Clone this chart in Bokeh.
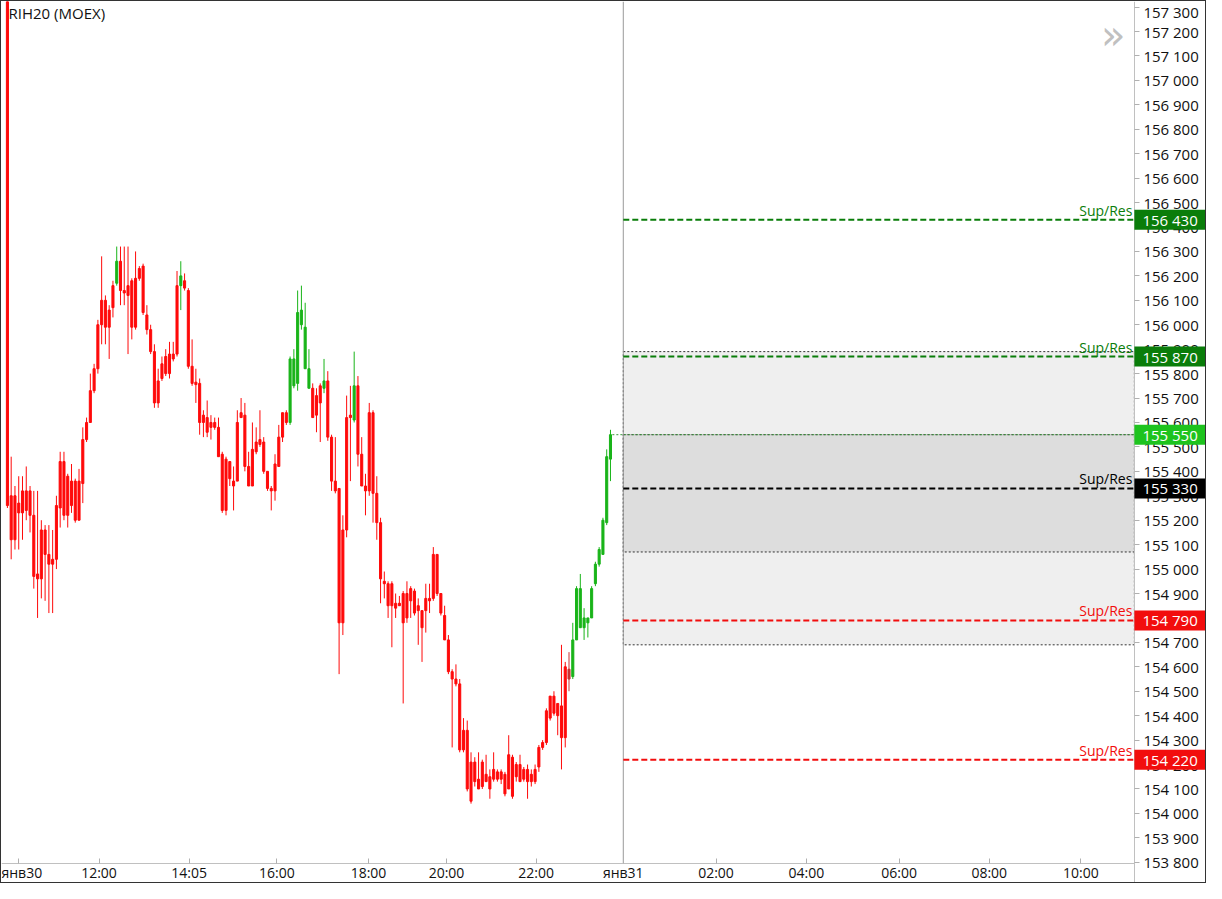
from bokeh.plotting import figure
from bokeh.models import (Range1d, FixedTicker, SingleIntervalTicker,
                          CustomJSTickFormatter, Label, ColumnDataSource)
from bokeh.embed import file_html
from bokeh.resources import INLINE

# ---------------- data ----------------
instrument = "RIH20 (MOEX)"

opens = [157460, 155300, 155120, 155270, 155230, 155320, 155320, 155220, 154980, 154960,
         155160, 155060, 155020, 155040, 155250, 155440, 155220, 155360, 155360, 155200,
         155350, 155530, 155600, 155730, 155820, 156000, 156100, 155990, 156070, 156170,
         156260, 156140, 156120, 156180, 155990, 156190, 156240, 156040, 155980, 155890,
         155680, 155780, 155800, 155880, 155860, 155880, 156160, 156180, 156140, 155830,
         155765, 155760, 155600, 155620, 155580, 155600, 155580, 155470, 155240, 155440,
         155360, 155360, 155620, 155630, 155420, 155340, 155480, 155510, 155520, 155400,
         155330, 155320, 155420, 155540, 155600, 155600, 155860, 155760, 156060, 155990,
         155820, 155740, 155630, 155680, 155740, 155770, 155540, 155360, 155330, 154780,
         155160, 155620, 155610, 155750, 155470, 155340, 155320, 155640, 155310, 155190,
         154950, 154940, 154850, 154860, 154850, 154900, 154800, 154920, 154910, 154850,
         154830, 154830, 154880, 154880, 155060, 154900, 154810, 154710, 154580, 154550,
         154530, 154260, 154340, 154050, 154210, 154140, 154110, 154160, 154150, 154140,
         154170, 154140, 154160, 154100, 154230, 154150, 154200, 154140, 154180, 154130,
         154180, 154190, 154270, 154290, 154390, 154480, 154450, 154440, 154310, 154590,
         154560, 154710, 154920, 154760, 154780, 154800, 154940, 155020, 155060, 155190,
         155450]
closes = [155260, 155120, 155300, 155230, 155320, 155240, 155220, 154970, 154960, 155160,
          155060, 155020, 155040, 155260, 155440, 155220, 155380, 155260, 155200, 155360,
          155530, 155600, 155730, 155820, 156000, 156100, 155990, 156060, 156160, 156260,
          156140, 156130, 156160, 155990, 156190, 156230, 156050, 155980, 155890, 155680,
          155770, 155840, 155870, 155800, 155880, 156160, 156200, 156150, 155830, 155760,
          155755, 155600, 155630, 155560, 155600, 155580, 155460, 155240, 155450, 155370,
          155340, 155600, 155640, 155420, 155340, 155490, 155520, 155530, 155400, 155330,
          155320, 155430, 155540, 155640, 155640, 155860, 155750, 156050, 156000, 155820,
          155740, 155620, 155710, 155750, 155770, 155540, 155360, 155320, 154780, 155160,
          155620, 155630, 155750, 155470, 155340, 155320, 155640, 155310, 155190, 154960,
          154940, 154850, 154940, 154840, 154860, 154780, 154900, 154870, 154820, 154830,
          154760, 154880, 154870, 155060, 154900, 154820, 154710, 154580, 154550, 154530,
          154260, 154340, 154100, 154210, 154130, 154100, 154210, 154130, 154100, 154180,
          154140, 154170, 154080, 154240, 154070, 154200, 154130, 154180, 154130, 154160,
          154130, 154270, 154290, 154420, 154480, 154410, 154400, 154310, 154600, 154550,
          154710, 154920, 154760, 154800, 154800, 154920, 155020, 155080, 155200, 155460,
          155550]
highs = [157480, 155460, 155340, 155380, 155380, 155420, 155340, 155320, 155320, 155200,
         155180, 155180, 155160, 155300, 155480, 155480, 155390, 155430, 155370, 155410,
         155580, 155620, 155800, 155840, 156020, 156280, 156120, 156080, 156180, 156320,
         156320, 156320, 156320, 156190, 156300, 156240, 156250, 156080, 156000, 155920,
         155820, 155870, 155900, 155930, 155930, 156220, 156260, 156210, 156150, 155940,
         155820, 155780, 155650, 155690, 155630, 155620, 155620, 155480, 155460, 155440,
         155420, 155650, 155700, 155680, 155480, 155600, 155580, 155650, 155540, 155400,
         155340, 155470, 155590, 155640, 155650, 155870, 155900, 156140, 156160, 156090,
         155900, 155760, 155740, 155760, 155860, 155810, 155550, 155540, 155330, 155220,
         155710, 155750, 155890, 155790, 155540, 155390, 155680, 155650, 155380, 155210,
         154990, 154950, 154950, 154900, 154890, 154910, 154950, 154930, 154920, 154880,
         154830, 154940, 154940, 155090, 155060, 154900, 154850, 154730, 154590, 154610,
         154550, 154390, 154380, 154250, 154230, 154250, 154220, 154240, 154180, 154250,
         154180, 154180, 154170, 154320, 154240, 154210, 154240, 154190, 154200, 154180,
         154200, 154280, 154300, 154430, 154480, 154500, 154450, 154690, 154620, 154660,
         154780, 154930, 154980, 154840, 154800, 154930, 155030, 155090, 155210, 155490,
         155570]
lows = [155250, 155040, 155080, 155080, 155120, 155200, 155150, 154920, 154800, 154880,
        154870, 154820, 154820, 155000, 155170, 155200, 155170, 155230, 155190, 155200,
        155270, 155520, 155600, 155720, 155800, 155920, 155920, 155860, 156030, 156160,
        156080, 156080, 155880, 155940, 155980, 156180, 156040, 155960, 155880, 155660,
        155660, 155770, 155790, 155780, 155850, 155870, 156060, 156140, 155820, 155750,
        155680, 155550, 155540, 155540, 155530, 155570, 155460, 155230, 155220, 155340,
        155240, 155360, 155620, 155400, 155340, 155340, 155470, 155500, 155390, 155320,
        155240, 155280, 155420, 155520, 155590, 155590, 155740, 155730, 155980, 155820,
        155740, 155620, 155560, 155520, 155720, 155525, 155320, 155310, 154570, 154730,
        155130, 155360, 155600, 155420, 155340, 155220, 155300, 155190, 155120, 154860,
        154880, 154800, 154680, 154800, 154850, 154450, 154780, 154800, 154810, 154690,
        154620, 154740, 154820, 154870, 154890, 154810, 154710, 154570, 154270, 154520,
        154250, 154250, 154090, 154040, 154110, 154100, 154100, 154130, 154060, 154130,
        154130, 154120, 154070, 154100, 154060, 154130, 154130, 154130, 154060, 154110,
        154120, 154170, 154260, 154280, 154380, 154400, 154320, 154180, 154270, 154500,
        154550, 154710, 154760, 154710, 154720, 154800, 154930, 155010, 155060, 155180,
        155360]

# bars flagged by the trend indicator
up_bars = [29, 46, 75, 76, 77, 78, 79, 80, 84, 92,
           150, 151, 152, 153, 154, 155, 156, 157, 158, 159, 160]
neutral_bars = [149]

# time axis (bar-index positions of the labels)
time_tick_pos = [2.9, 24.3, 48.2, 71.5, 95.8, 116.5, 140.3, 163.4,
                 188.0, 212.0, 236.6, 260.5, 284.8]
time_tick_labels = ["янв30", "12:00", "14:05", "16:00", "18:00", "20:00", "22:00",
                    "янв31", "02:00", "04:00", "06:00", "08:00", "10:00"]
session_end_pos = 163.4

# support / resistance levels
levels = [156430, 155870, 155330, 154790, 154220]
level_kind = ["res", "res", "mid", "sup", "sup"]
level_text = "Sup/Res"
last_price = 155550
zone_outer = [154690, 155890]
zone_inner = [155070, 155550]

# visible window: price-scale position and time-scale position
x_view = [-1.57, 318.4]
y_view = [153709, 157323]
price_axis_at = 299.0      # x where the price scale sits
time_axis_at = 153795      # price where the time scale sits

# ---------------- styles ----------------
RED = "#ff0a0a"
GREEN = "#19b419"
DARK_RED = "#c83232"
kind_color = {"res": "#0a7d0a", "mid": "#000000", "sup": "#f20d0d"}
LAST_COLOR = "#1ec31e"
FONT = "Open Sans"

colors = []
for i in range(len(opens)):
    if i in up_bars:
        colors.append(GREEN)
    elif i in neutral_bars:
        colors.append(DARK_RED)
    else:
        colors.append(RED)

src = ColumnDataSource(dict(
    x=list(range(len(opens))),
    top=[max(o, c) for o, c in zip(opens, closes)],
    bottom=[min(o, c) for o, c in zip(opens, closes)],
    high=highs, low=lows, color=colors,
))

W, H = 1206, 883
p = figure(width=W, height=H, output_backend="svg", toolbar_location=None,
           x_range=Range1d(*x_view), y_range=Range1d(*y_view),
           y_axis_location="right",
           min_border_left=0, min_border_top=0, min_border_right=0,
           min_border_bottom=0)
p.styles = {"border": "1px solid #333333"}
p.outline_line_color = None
p.xgrid.visible = False
p.ygrid.visible = False
p.background_fill_color = "white"
p.border_fill_color = "white"

# zones
p.quad(left=[session_end_pos], right=[price_axis_at], bottom=[zone_outer[0]], top=[zone_outer[1]],
       fill_color="#efefef", line_color="#333333", line_dash="2 2", line_width=1)
p.quad(left=[session_end_pos], right=[price_axis_at], bottom=[zone_inner[0]], top=[zone_inner[1]],
       fill_color="#dddddd", line_color="#333333", line_dash="2 2", line_width=1)

# session separator
p.segment(x0=[session_end_pos], x1=[session_end_pos], y0=[time_axis_at], y1=[y_view[1]],
          line_color="#999999", line_width=1)

# level lines
n_lv = len(levels)
p.segment(x0=[session_end_pos] * n_lv, x1=[price_axis_at] * n_lv, y0=levels, y1=levels,
          line_color=[kind_color[k] for k in level_kind], line_width=2, line_dash="6 3")
p.segment(x0=[len(opens) - 0.5], x1=[price_axis_at], y0=[last_price], y1=[last_price],
          line_color="#3a9a3a", line_width=1, line_dash="2 2")

# candles
p.segment(x0="x", y0="low", x1="x", y1="high", line_color="color", line_width=1, source=src)
p.vbar(x="x", width=0.55, top="top", bottom="bottom", fill_color="color",
       line_color="color", line_width=1, source=src)

# axes (pinned inside the frame)
xa = p.xaxis[0]
xa.fixed_location = time_axis_at
xa.bounds = (x_view[0], price_axis_at)
xa.ticker = FixedTicker(ticks=time_tick_pos)
xa.major_label_overrides = {t: s for t, s in zip(time_tick_pos, time_tick_labels)}
xa.minor_tick_line_color = None
xa.major_tick_in = 5
xa.major_tick_out = 0
xa.major_tick_line_color = "#b0b0b0"
xa.axis_line_color = "#c0c0c0"
xa.major_label_standoff = 0
xa.major_label_text_font = FONT
xa.major_label_text_font_size = "14px"
xa.major_label_text_color = "#111111"

ya = p.yaxis[0]
ya.fixed_location = price_axis_at
ya.ticker = SingleIntervalTicker(interval=100, num_minor_ticks=0)
ya.formatter = CustomJSTickFormatter(
    code="return Math.round(tick).toString().replace(/\\B(?=(\\d{3})+(?!\\d))/g, ' ');")
ya.minor_tick_line_color = None
ya.major_tick_in = 0
ya.major_tick_out = 5
ya.major_tick_line_color = "#b0b0b0"
ya.axis_line_color = "#c0c0c0"
ya.major_label_standoff = 4
ya.major_label_text_font = FONT
ya.major_label_text_font_size = "15px"
ya.major_label_text_color = "#111111"

# annotations
p.add_layout(Label(x=x_view[0], y=y_view[1], x_offset=7, y_offset=-1, text=instrument,
                   text_baseline="top", text_font=FONT, text_font_size="15px",
                   text_color="#111111"))
p.add_layout(Label(x=price_axis_at, y=y_view[1], x_offset=-9, y_offset=-33, text="»",
                   text_align="right", text_baseline="middle", text_font="DejaVu Sans",
                   text_font_size="40px", text_color="#c0c0c0"))

for lv, kd in zip(levels, level_kind):
    p.add_layout(Label(x=price_axis_at, y=lv, x_offset=-2, y_offset=0, text=level_text,
                       text_align="right", text_baseline="bottom", text_font=FONT,
                       text_font_size="14px", text_color=kind_color[kd]))

def fmt(v):
    return f"{v:,}".replace(",", " ")

box_items = [(lv, kind_color[kd]) for lv, kd in zip(levels, level_kind)] + [(last_price, LAST_COLOR)]
for lv, col in box_items:
    p.add_layout(Label(x=price_axis_at, y=lv, x_offset=0, text=fmt(lv),
                       text_align="left", text_baseline="middle", text_font=FONT,
                       text_font_size="15px", text_color="white",
                       background_fill_color=col,
                       padding=dict(left=8, right=14, top=0, bottom=0)))

open("out.html", "w").write(file_html(p, INLINE))
